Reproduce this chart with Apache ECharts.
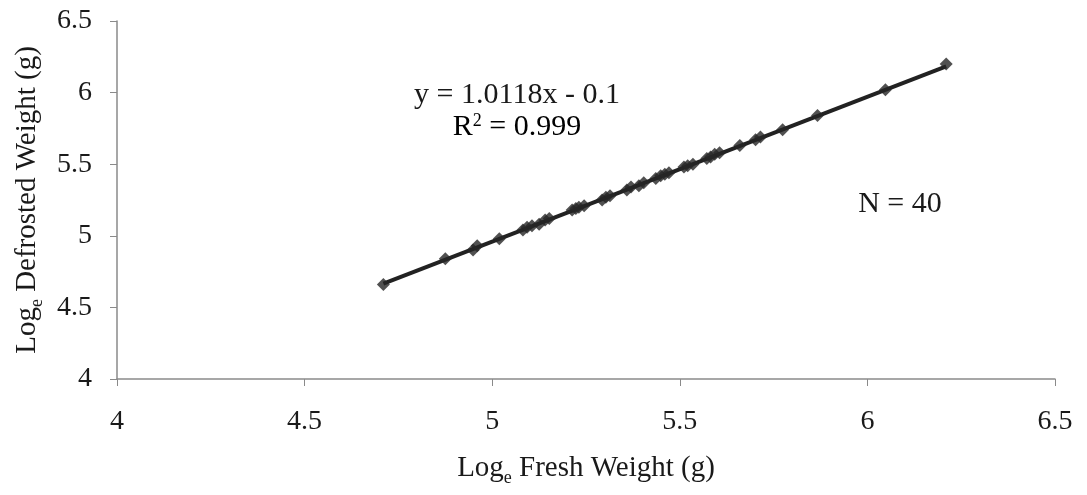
<!DOCTYPE html>
<html>
<head>
<meta charset="utf-8">
<script src="https://cdn.jsdelivr.net/npm/echarts@6/dist/echarts.min.js"></script>
<style>
html,body{margin:0;padding:0;background:#fff;}
#chart{width:1087px;height:495px;}
</style>
</head>
<body>
<div id="chart"></div>
<script>
// Data (Loge fresh weight vs Loge defrosted weight)
const freshWeight = [4.71,4.875,4.949,4.96,5.019,5.082,5.093,5.106,5.125,5.141,5.152,5.213,5.223,5.231,5.245,5.293,5.303,5.314,5.359,5.37,5.391,5.404,5.436,5.449,5.46,5.471,5.511,5.521,5.535,5.572,5.582,5.593,5.606,5.66,5.702,5.715,5.774,5.867,6.048,6.21];
const defrostedWeight = [4.66,4.84,4.9,4.93,4.98,5.04,5.06,5.07,5.08,5.11,5.12,5.18,5.19,5.2,5.21,5.25,5.27,5.28,5.32,5.34,5.35,5.37,5.4,5.42,5.43,5.44,5.48,5.49,5.5,5.54,5.55,5.57,5.58,5.63,5.67,5.69,5.74,5.84,6.02,6.2];
const slope = 1.0118;
const intercept = -0.1;
const xTicks = [4, 4.5, 5, 5.5, 6, 6.5];
const yTicks = [4, 4.5, 5, 5.5, 6, 6.5];
const equationText = 'y = 1.0118x - 0.1';
const r2Text = '= 0.999';
const nText = 'N = 40';

const points = freshWeight.map((x, i) => [x, defrostedWeight[i]]);
const xMin = Math.min(...freshWeight), xMax = Math.max(...freshWeight);
const trend = [[xMin, slope * xMin + intercept], [xMax, slope * xMax + intercept]];

const serif = '"Liberation Serif", "Times New Roman", serif';
const ink = '#1a1a1a';
const titleRich = {
  m: { fontFamily: serif, fontSize: 29, color: ink },
  s: { fontFamily: serif, fontSize: 18, color: ink, verticalAlign: 'bottom', padding: [0,0,-4,0] }
};
const chart = echarts.init(document.getElementById('chart'));
chart.setOption({
  backgroundColor: '#fff',
  animation: false,
  grid: { left: 117, right: 32, top: 21, bottom: 116 },
  xAxis: {
    type: 'value', min: xTicks[0], max: xTicks[xTicks.length - 1], interval: 0.5,
    axisLine: { lineStyle: { color: '#8a8a8a', width: 1.5 } },
    axisTick: { show: true, length: 7, lineStyle: { color: '#8a8a8a' } },
    splitLine: { show: false },
    axisLabel: { fontFamily: serif, fontSize: 28, color: ink, margin: 29 },
    name: '{m|Log}{s|e}{m| Fresh Weight (g)}',
    nameLocation: 'middle', nameGap: 75,
    nameTextStyle: { rich: titleRich }
  },
  yAxis: {
    type: 'value', min: yTicks[0], max: yTicks[yTicks.length - 1], interval: 0.5,
    axisLine: { show: true, lineStyle: { color: '#8a8a8a', width: 1.5 } },
    axisTick: { show: true, length: 7, lineStyle: { color: '#8a8a8a' } },
    splitLine: { show: false },
    axisLabel: { fontFamily: serif, fontSize: 28, color: ink, margin: 25 },
    name: '{m|Log}{s|e}{m| Defrosted Weight (g)}',
    nameLocation: 'middle', nameGap: 68, nameRotate: 90,
    nameTextStyle: { rich: titleRich }
  },
  series: [
    {
      type: 'line', data: trend, symbol: 'none',
      lineStyle: { color: '#222', width: 4 }, z: 2
    },
    {
      type: 'scatter', data: points, symbol: 'diamond', symbolSize: [13, 13],
      itemStyle: { color: '#262626' }, z: 3
    }
  ],
  graphic: [
    { type: 'text', x: 517, y: 95, style: { text: equationText, font: '30px ' + serif, fill: ink, textAlign: 'center', textVerticalAlign: 'middle' } },
    { type: 'text', x: 517, y: 127, style: {
      text: '{m|R}{sup|2}{m| ' + r2Text + '}',
      textAlign: 'center', textVerticalAlign: 'middle',
      rich: { m: { fontFamily: serif, fontSize: 30, color: ink }, sup: { fontFamily: serif, fontSize: 18, color: ink, verticalAlign: 'top', padding: [0,0,12,0] } }
    } },
    { type: 'text', x: 900, y: 204, style: { text: nText, font: '30px ' + serif, fill: ink, textAlign: 'center', textVerticalAlign: 'middle' } }
  ]
});
</script>
</body>
</html>
